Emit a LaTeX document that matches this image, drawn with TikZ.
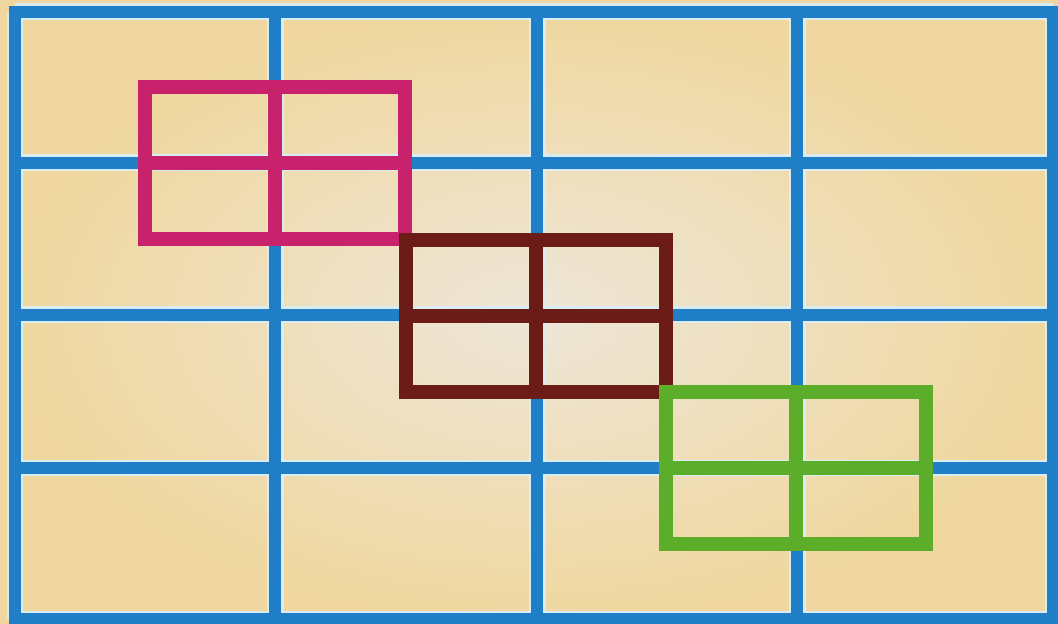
\documentclass[tikz,border=0pt]{standalone}
\usepackage{tikz}
\definecolor{paper}{HTML}{EFD79F}
\definecolor{paperlight}{HTML}{EEE6D8}
\definecolor{gridblue}{HTML}{1F7EC6}
\definecolor{gridhalo}{HTML}{D9ECF2}
\definecolor{boxpink}{HTML}{C8226C}
\definecolor{boxbrown}{HTML}{6C1C16}
\definecolor{boxgreen}{HTML}{5CAE2A}

\begin{document}
\begin{tikzpicture}[
  x=0.02cm, y=-0.02cm,
  halo/.style={draw=gridhalo, line width=3.4mm},
  gridline/.style={draw=gridblue, line width=2.3mm, line cap=rect},
  quad/.style={line width=2.9mm, line join=miter, line cap=rect}
]
\useasboundingbox (0,0) rectangle (1058,624);
\fill[paper] (0,0) rectangle (1058,624);
\shade[inner color=paperlight, outer color=paper] (15,12) rectangle (1053,619);

% the blue grid, 4 x 4 cells
\foreach \gx in {15,275,537,797,1053}
  \draw[halo] (\gx,12) -- (\gx,619);
\foreach \gy in {12,163,315,468,619}
  \draw[halo] (15,\gy) -- (1053,\gy);
\foreach \gx in {15,275,537,797,1053}
  \draw[gridline] (\gx,12) -- (\gx,619);
\foreach \gy in {12,163,315,468,619}
  \draw[gridline] (15,\gy) -- (1053,\gy);

% the three 2 x 2 squares on the diagonal
\foreach \cx/\cy/\col in {275/163/boxpink, 536/316/boxbrown, 796/468/boxgreen} {
  \draw[quad, draw=\col] (\cx-130,\cy-76) rectangle (\cx+130,\cy+76);
  \draw[quad, draw=\col, line cap=butt] (\cx-130,\cy) -- (\cx+130,\cy);
  \draw[quad, draw=\col, line cap=butt] (\cx,\cy-76) -- (\cx,\cy+76);
}
\end{tikzpicture}
\end{document}
